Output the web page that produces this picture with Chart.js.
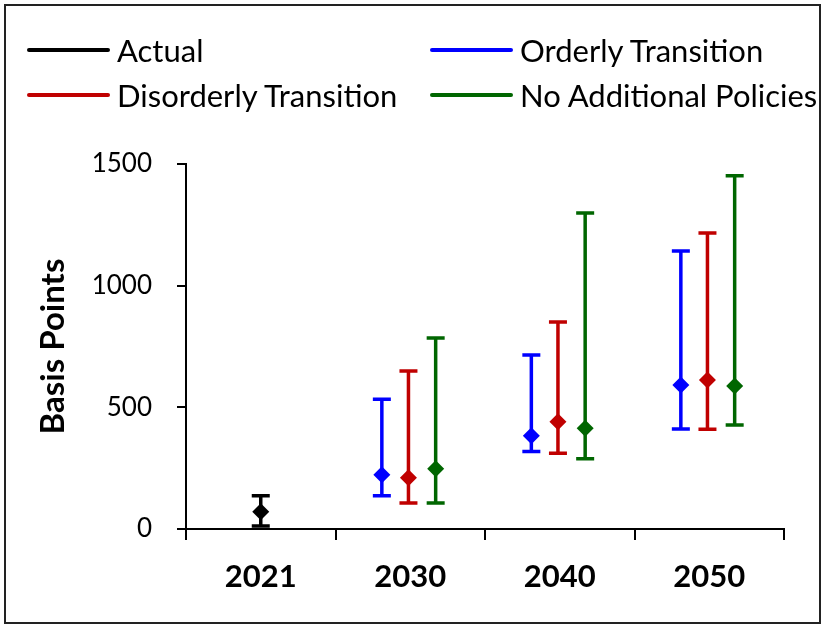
<!DOCTYPE html>
<html>
<head>
<meta charset="utf-8">
<script src="https://cdn.jsdelivr.net/npm/chart.js@4.4.1/dist/chart.umd.min.js"></script>
<style>
  html, body { margin: 0; padding: 0; background: #fff; }
  #wrap { position: relative; width: 825px; height: 627px; overflow: hidden; }
  #frame { position: absolute; left: 4px; top: 4px; width: 817px; height: 620px; border: 2px solid #222; box-sizing: border-box; pointer-events: none; }
  canvas { position: absolute; left: 0; top: 0; }
  .leg { position: absolute; height: 40px; display: flex; align-items: center; font-family: Lato, "Noto Sans", sans-serif; font-size: 31px; color: #000; white-space: nowrap; }
  .leg .swatch { width: 83px; height: 4px; border-radius: 2px; margin-right: 7px; }
</style>
</head>
<body>
<div id="wrap">
  <canvas id="chart" width="825" height="627"></canvas>
  <div id="frame"></div>
</div>
<script>
// Years on the horizontal axis
const categories = ['2021', '2030', '2040', '2050'];

// Series names and colours
const seriesNames = ['Actual', 'Orderly Transition', 'Disorderly Transition', 'No Additional Policies'];
const seriesColors = ['#000000', '#0000FF', '#C00000', '#006600'];

// Central estimates (basis points)
const actualMid = [71, null, null, null];
const orderlyMid = [null, 223, 383, 592];
const disorderlyMid = [null, 211, 441, 612];
const noPolicyMid = [null, 248, 414, 588];

// Lower end of each range
const actualLow = [12, null, null, null];
const orderlyLow = [null, 137, 318, 411];
const disorderlyLow = [null, 107, 311, 410];
const noPolicyLow = [null, 107, 289, 427];

// Upper end of each range
const actualHigh = [137, null, null, null];
const orderlyHigh = [null, 533, 715, 1142];
const disorderlyHigh = [null, 649, 851, 1216];
const noPolicyHigh = [null, 785, 1299, 1452];

// Y-axis ticks
const yTicks = [0, 500, 1000, 1500];

// Horizontal shift of each series inside a year group (in category units)
const seriesShift = [0, -0.19, -0.012, 0.17];

const mids = [actualMid, orderlyMid, disorderlyMid, noPolicyMid];
const lows = [actualLow, orderlyLow, disorderlyLow, noPolicyLow];
const highs = [actualHigh, orderlyHigh, disorderlyHigh, noPolicyHigh];

// Legend laid out in two columns
const legendPos = [[27, 30], [430, 30], [27, 75], [430, 75]];
seriesNames.forEach((name, i) => {
  const el = document.createElement('div');
  el.className = 'leg';
  el.style.left = legendPos[i][0] + 'px';
  el.style.top = legendPos[i][1] + 'px';
  const sw = document.createElement('span');
  sw.className = 'swatch';
  sw.style.background = seriesColors[i];
  el.appendChild(sw);
  el.appendChild(document.createTextNode(name));
  document.getElementById('wrap').appendChild(el);
});

function toPoints(values, s) {
  const pts = [];
  values.forEach((v, i) => {
    if (v !== null) pts.push({ x: i + seriesShift[s], y: v, lo: lows[s][i], hi: highs[s][i] });
  });
  return pts;
}

const datasets = seriesNames.map((name, s) => ({
  label: name,
  data: toPoints(mids[s], s),
  xAxisID: 'xv',
  yAxisID: 'y',
  showLine: false,
  pointStyle: 'rectRot',
  pointRadius: 8.5,
  pointHoverRadius: 8.5,
  pointBorderWidth: 0,
  backgroundColor: seriesColors[s],
  borderColor: seriesColors[s]
}));

// Draws the range whiskers with end caps beneath the diamonds
const rangeBars = {
  id: 'rangeBars',
  beforeDatasetsDraw(chart) {
    const ctx = chart.ctx;
    const xs = chart.scales.xv, ys = chart.scales.y;
    ctx.save();
    chart.data.datasets.forEach(ds => {
      ctx.strokeStyle = ds.borderColor;
      ctx.lineWidth = 3.5;
      ctx.lineCap = 'butt';
      ds.data.forEach(p => {
        const x = xs.getPixelForValue(p.x);
        const yl = ys.getPixelForValue(p.lo);
        const yh = ys.getPixelForValue(p.hi);
        ctx.beginPath();
        ctx.moveTo(x, yl); ctx.lineTo(x, yh);
        ctx.moveTo(x - 9, yl); ctx.lineTo(x + 9, yl);
        ctx.moveTo(x - 9, yh); ctx.lineTo(x + 9, yh);
        ctx.stroke();
      });
    });
    ctx.restore();
  }
};

new Chart(document.getElementById('chart'), {
  type: 'scatter',
  data: { datasets },
  plugins: [rangeBars],
  options: {
    responsive: false,
    animation: false,
    events: [],
    layout: { padding: { left: 0, top: 164, right: 41, bottom: 0 } },
    plugins: { legend: { display: false }, tooltip: { enabled: false } },
    scales: {
      xv: {
        type: 'linear',
        display: false,
        min: -0.5,
        max: categories.length - 0.5
      },
      x: {
        type: 'category',
        labels: categories,
        offset: true,
        position: 'bottom',
        afterFit(scale) { scale.height = 98; },
        grid: { offset: true, drawOnChartArea: false, drawTicks: true, tickLength: 11, color: '#000', lineWidth: 2 },
        border: { display: true, color: '#000', width: 2 },
        ticks: { color: '#000', padding: 18, maxRotation: 0, font: { family: 'Lato', size: 31, weight: 'bold' } }
      },
      y: {
        type: 'linear',
        min: 0,
        max: 1500,
        afterFit(scale) { scale.width = 186; },
        afterBuildTicks(scale) { scale.ticks = yTicks.map(v => ({ value: v })); },
        grid: { drawOnChartArea: false, drawTicks: true, tickLength: 9, color: '#000', lineWidth: 2 },
        border: { display: true, color: '#000', width: 2 },
        ticks: { color: '#000', padding: 25, font: { family: 'Lato', size: 26 }, callback: v => String(v) },
        title: { display: true, text: 'Basis Points', color: '#000', padding: { top: 34, bottom: 0 }, font: { family: 'Lato', size: 33, weight: 'bold' } }
      }
    }
  }
});
</script>
</body>
</html>
